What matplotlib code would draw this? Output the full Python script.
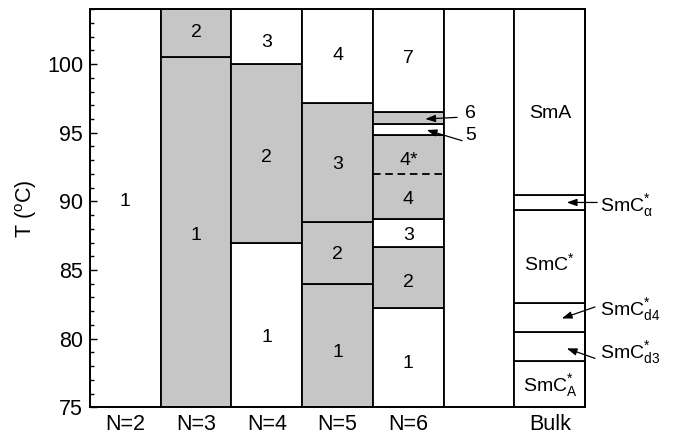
import matplotlib
matplotlib.use('Agg')
import matplotlib.pyplot as plt
from matplotlib.ticker import MultipleLocator

plt.rcParams['font.family'] = ['Liberation Sans', 'DejaVu Sans']
plt.rcParams['mathtext.fontset'] = 'custom'
plt.rcParams['mathtext.rm'] = 'Liberation Sans'
plt.rcParams['mathtext.it'] = 'Liberation Sans:italic'
plt.rcParams['mathtext.bf'] = 'Liberation Sans:bold'

# ---------------- data ----------------
columns = ['N=2', 'N=3', 'N=4', 'N=5', 'N=6', '', 'Bulk']
T_min, T_max = 75, 104

# phase boundaries (deg C) for each column
bounds_N2 = [75, 104]
bounds_N3 = [75, 100.5, 104]
bounds_N4 = [75, 87.0, 100.0, 104]
bounds_N5 = [75, 84.0, 88.5, 97.2, 104]
bounds_N6 = [75, 82.2, 86.7, 88.7, 94.8, 95.6, 96.5, 104]
bounds_empty = [75, 104]
bounds_bulk = [75, 78.4, 80.5, 82.6, 89.4, 90.5, 104]

# shading of each segment (g = grey, w = white)
shade_N2 = ['w']
shade_N3 = ['g', 'g']
shade_N4 = ['w', 'g', 'w']
shade_N5 = ['g', 'g', 'g', 'w']
shade_N6 = ['w', 'g', 'w', 'g', 'w', 'g', 'w']
shade_empty = ['w']
shade_bulk = ['w', 'w', 'w', 'w', 'w', 'w']

dashed_N6 = 92.0

# segment labels (text, temperature)
labels_N2 = [('1', 90.0)]
labels_N3 = [('1', 87.5), ('2', 102.3)]
labels_N4 = [('1', 80.1), ('2', 93.2), ('3', 101.6)]
labels_N5 = [('1', 79.0), ('2', 86.1), ('3', 92.7), ('4', 100.6)]
labels_N6 = [('1', 78.2), ('2', 84.1), ('3', 87.5), ('4', 90.1), ('4*', 93.0), ('7', 100.4)]
labels_bulk = [('SmA', 96.4)]
labels_bulk_base = [(r'SmC$^{*}$', 85.0), (r'SmC$^{*}_{\mathrm{A}}$', 76.2)]

# annotated thin layers: (text, text T, arrow tail (x,T), arrow head (x,T))
ann_N6 = [('6', 96.4, (5.19, 96.12), (4.74, 96.0)),
          ('5', 94.8, (5.26, 94.42), (4.76, 95.2))]
ann_bulk = [(r'SmC$^{*}_{\mathrm{\alpha}}$', 89.3, (7.17, 89.92), (6.74, 89.92)),
            (r'SmC$^{*}_{\mathrm{d4}}$', 81.7, (7.14, 82.31), (6.67, 81.47)),
            (r'SmC$^{*}_{\mathrm{d3}}$', 78.56, (7.14, 78.56), (6.74, 79.29))]

all_bounds = [bounds_N2, bounds_N3, bounds_N4, bounds_N5, bounds_N6, bounds_empty, bounds_bulk]
all_shades = [shade_N2, shade_N3, shade_N4, shade_N5, shade_N6, shade_empty, shade_bulk]
all_labels = [labels_N2, labels_N3, labels_N4, labels_N5, labels_N6, [], labels_bulk]

GREY = '#c6c6c6'
fills = {'g': GREY, 'w': 'white'}
LW = 1.3
FS_IN = 14

fig = plt.figure(figsize=(6.82, 4.37), dpi=100)
ax = fig.add_axes([0.132, 0.068, 0.726, 0.911])

for i, (b, s) in enumerate(zip(all_bounds, all_shades)):
    for j in range(len(b) - 1):
        ax.bar(i, b[j + 1] - b[j], bottom=b[j], width=1, align='edge',
               color=fills[s[j]], edgecolor='black', linewidth=LW, zorder=1)

ax.plot([4, 5], [dashed_N6, dashed_N6], color='black', lw=LW,
        dashes=(4.2, 2.6), zorder=2)

for i, labs in enumerate(all_labels):
    for txt, t in labs:
        ax.text(i + 0.5, t, txt, ha='center', va='center', fontsize=FS_IN, zorder=3)
for txt, t in labels_bulk_base:
    ax.text(6.5, t, txt, ha='center', va='baseline', fontsize=FS_IN, zorder=3)

arrow = dict(arrowstyle='-|>,head_length=0.5,head_width=0.18', color='black',
             lw=0.9, shrinkA=0, shrinkB=0, mutation_scale=12)
for txt, t, tail, head in ann_N6:
    ax.annotate('', xy=head, xytext=tail, arrowprops=arrow, annotation_clip=False)
    ax.text(5.30, t, txt, ha='left', va='center', fontsize=FS_IN, clip_on=False)
for txt, t, tail, head in ann_bulk:
    ax.annotate('', xy=head, xytext=tail, arrowprops=arrow, annotation_clip=False)
    ax.text(7.21, t, txt, ha='left', va='baseline', fontsize=FS_IN, clip_on=False)

ax.set_xlim(0, len(columns))
ax.set_ylim(T_min, T_max)
ax.set_xticks([i + 0.5 for i in range(len(columns))])
ax.set_xticklabels(columns)
ax.yaxis.set_major_locator(MultipleLocator(5))
ax.yaxis.set_minor_locator(MultipleLocator(1))
ax.tick_params(axis='y', which='major', direction='in', length=5, width=1,
               labelsize=15.5, pad=5)
ax.tick_params(axis='y', which='minor', direction='in', length=3, width=1)
ax.tick_params(axis='x', length=0, labelsize=15.5, pad=5)
for sp in ax.spines.values():
    sp.set_linewidth(1.4)
    sp.set_zorder(4)
ax.set_ylabel(r'T ($^{\mathrm{o}}$C)', fontsize=15.5, labelpad=6)

fig.savefig('out.png', dpi=100)
